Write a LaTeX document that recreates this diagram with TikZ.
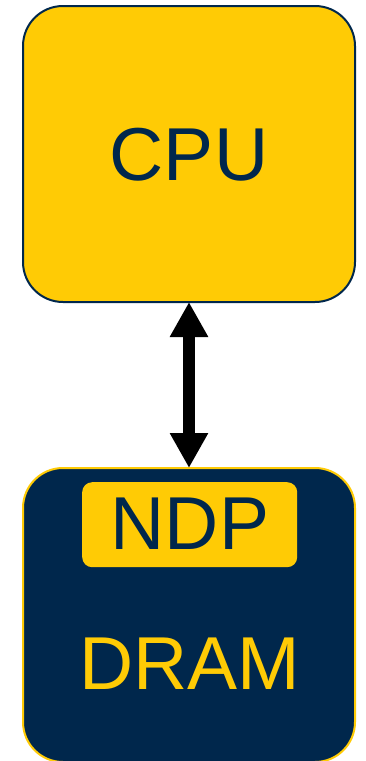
\documentclass[tikz,border=0pt]{standalone}
\usepackage{fontspec}
\setmainfont{Liberation Sans}
\usetikzlibrary{arrows.meta}
\definecolor{maize}{HTML}{FFCB05}
\definecolor{navy}{HTML}{00274C}
\tikzset{
  bigbox/.style={rounded corners=40pt, line width=2pt, minimum width=332pt, inner sep=0pt, outer sep=0pt},
  bigtext/.style={font=\fontsize{75}{80}\selectfont, inner sep=0pt},
  link/.style={line width=12pt, {Triangle[length=35pt,width=36pt]}-{Triangle[length=35pt,width=36pt]}}
}
\begin{document}
\begin{tikzpicture}[x=1pt,y=-1pt]
\useasboundingbox (0,0) rectangle (365,761);
\clip (0,0) rectangle (365,761);
\node[bigbox, fill=maize, draw=navy, minimum height=296pt, anchor=north west] (cpu) at (23,6) {};
\node[bigtext, text=navy] (cputext) at (189,155) {CPU};
\node[bigbox, fill=navy, draw=maize, minimum height=294pt, anchor=north west] (dram) at (23,468) {};
\node[fill=maize, rounded corners=10pt, minimum width=215pt, minimum height=85pt, inner sep=0pt, anchor=north west] (ndp) at (82,482) {};
\node[bigtext, text=navy] (ndptext) at (190,524) {NDP};
\node[bigtext, text=maize] (dramtext) at (190,664) {DRAM};
\draw[link] (cpu.south) -- (dram.north);
\end{tikzpicture}
\end{document}
